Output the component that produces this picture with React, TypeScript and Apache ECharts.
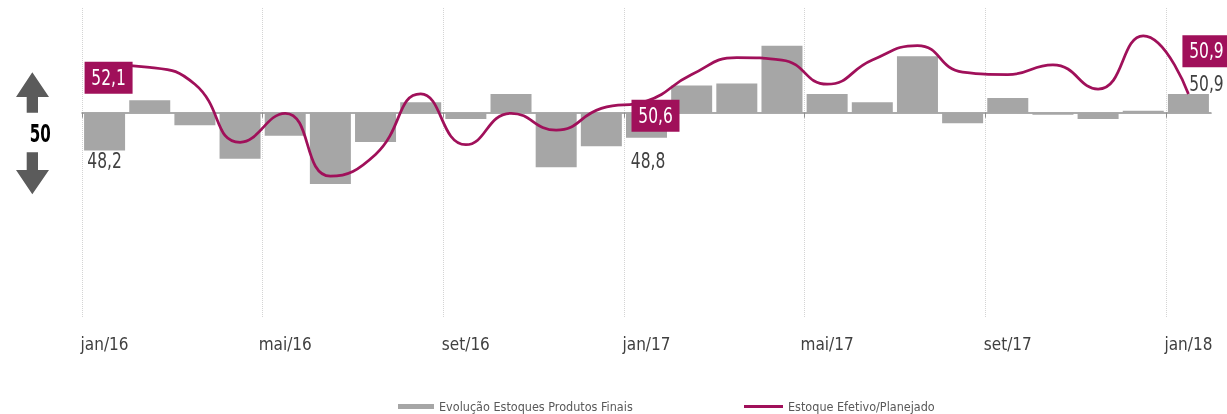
import React, { useEffect, useRef } from "react";
import * as echarts from "echarts";

// ---- data ----
const months = [
  "jan/16", "fev/16", "mar/16", "abr/16", "mai/16", "jun/16", "jul/16", "ago/16", "set/16", "out/16", "nov/16", "dez/16",
  "jan/17", "fev/17", "mar/17", "abr/17", "mai/17", "jun/17", "jul/17", "ago/17", "set/17", "out/17", "nov/17", "dez/17",
  "jan/18",
];
const estoqueProdutosFinais = [
  48.2, 50.6, 49.4, 47.8, 48.9, 46.6, 48.6, 50.5, 49.7, 50.9, 47.4, 48.4,
  48.8, 51.3, 51.4, 53.2, 50.9, 50.5, 52.7, 49.5, 50.7, 49.9, 49.7, 50.1,
  50.9,
];
const estoqueEfetivoPlanejado = [
  52.1, 52.0, 51.3, 48.9, 50.1, 47.5, 48.4, 50.9, 48.8, 50.1, 49.4, 50.3,
  50.6, 51.7, 52.4, 52.3, 51.3, 52.3, 52.9, 51.8, 51.7, 52.1, 51.1, 53.3,
  50.9,
];
const seriesNames = ["Evolução Estoques Produtos Finais", "Estoque Efetivo/Planejado"];
const labeledIndices = [0, 12, 24];
const baseValue = 50;

// ---- styles ----
const FONT = "'Liberation Sans Narrow', 'Arial Narrow', 'DejaVu Sans Condensed', 'Liberation Sans', sans-serif";
const BAR_COLOR = "#a6a6a6";
const MAROON = "#a0105a";
const TEXT = "#404040";
const NARROW = 0.82;

const fmt = (v: number) => v.toFixed(1).replace(".", ",");

export default function App() {
  const ref = useRef<HTMLDivElement>(null);

  useEffect(() => {
    const chart = echarts.init(ref.current!, undefined, { renderer: "svg" });

    // label placement relative to the data point (style, not data)
    const barLabelOffset: Record<number, number[]> = {
      0: [0, 10],
      12: [1.5, 22.6],
      24: [18, -10],
    };
    const lineLabelOffset: Record<number, number[]> = {
      0: [4, 13],
      12: [9, 14.5],
      24: [18, -42.6],
    };

    const deviations = estoqueProdutosFinais.map((v) => +(v - baseValue).toFixed(2));
    const barLabelData = labeledIndices.map((i) => [i, deviations[i]]);
    const lineLabelData = labeledIndices.map((i) => [i, estoqueEfetivoPlanejado[i]]);

    chart.setOption({
      animation: false,
      grid: { left: 82, right: 16, top: 8, bottom: 96, containLabel: false },
      legend: [
        {
          left: 398,
          top: 400,
          padding: 0,
          itemWidth: 36,
          itemHeight: 5,
          textStyle: { fontSize: 12.5, color: "#595959", fontFamily: FONT },
          data: [{ name: seriesNames[0], icon: "rect", itemStyle: { color: BAR_COLOR } }],
        },
        {
          left: 744,
          top: 400,
          padding: 0,
          itemWidth: 39,
          itemHeight: 3,
          textStyle: { fontSize: 12.5, color: "#595959", fontFamily: FONT },
          data: [{ name: seriesNames[1], icon: "rect", itemStyle: { color: MAROON } }],
        },
      ],
      xAxis: [
        {
          type: "category",
          data: months,
          position: "bottom",
          boundaryGap: true,
          axisLine: { show: false, onZero: false },
          axisTick: { show: false },
          axisLabel: {
            interval: 3,
            margin: 17,
            fontSize: 17,
            color: TEXT,
            fontFamily: FONT,
          },
          splitLine: {
            show: true,
            interval: 3,
            lineStyle: { color: "#d4d4d4", type: "dotted", width: 1 },
          },
        },
        {
          type: "category",
          data: months,
          position: "bottom",
          boundaryGap: true,
          axisLine: {
            show: true,
            onZero: true,
            onZeroAxisIndex: 0,
            lineStyle: { color: "#8f8f8f", width: 1.5 },
          },
          axisTick: {
            show: true,
            interval: 3,
            length: 5,
            lineStyle: { color: "#8f8f8f", width: 1 },
          },
          axisLabel: { show: false },
          splitLine: { show: false },
        },
      ],
      yAxis: [
        { type: "value", min: -9.8, max: 5, show: false, splitLine: { show: false } },
        { type: "value", min: 41.64, max: 54.45, show: false, splitLine: { show: false } },
      ],
      series: [
        {
          name: seriesNames[0],
          type: "bar",
          xAxisIndex: 0,
          yAxisIndex: 0,
          barWidth: 41,
          itemStyle: { color: BAR_COLOR },
          data: deviations,
        },
        {
          name: seriesNames[1],
          type: "line",
          xAxisIndex: 0,
          yAxisIndex: 1,
          smooth: 0.5,
          symbol: "none",
          lineStyle: { color: MAROON, width: 2.75 },
          data: estoqueEfetivoPlanejado,
          z: 3,
        },
        {
          name: "barLabels",
          type: "custom",
          xAxisIndex: 0,
          yAxisIndex: 0,
          clip: false,
          silent: true,
          z: 20,
          data: barLabelData,
          renderItem: (params: any, api: any) => {
            const idx = api.value(0);
            const pt = api.coord([idx, api.value(1)]);
            const off = barLabelOffset[idx] || [0, 0];
            return {
              type: "text",
              x: pt[0] + off[0],
              y: pt[1] + off[1],
              scaleX: NARROW,
              style: {
                text: fmt(estoqueProdutosFinais[idx]),
                fontSize: 21,
                fontFamily: FONT,
                fill: TEXT,
                align: "center",
                verticalAlign: "middle",
              },
            };
          },
        },
        {
          name: "lineLabels",
          type: "custom",
          xAxisIndex: 0,
          yAxisIndex: 1,
          clip: false,
          silent: true,
          z: 20,
          data: lineLabelData,
          renderItem: (params: any, api: any) => {
            const idx = api.value(0);
            const pt = api.coord([idx, api.value(1)]);
            const off = lineLabelOffset[idx] || [0, 0];
            return {
              type: "group",
              x: pt[0] + off[0],
              y: pt[1] + off[1],
              children: [
                {
                  type: "rect",
                  shape: { x: -24, y: -16, width: 48, height: 32 },
                  style: { fill: MAROON },
                },
                {
                  type: "text",
                  x: 0,
                  y: 0,
                  scaleX: NARROW,
                  style: {
                    text: fmt(estoqueEfetivoPlanejado[idx]),
                    fontSize: 21,
                    fontFamily: FONT,
                    fill: "#ffffff",
                    align: "center",
                    verticalAlign: "middle",
                  },
                },
              ],
            };
          },
        },
      ],
      graphic: [
        {
          type: "polygon",
          shape: {
            points: [
              [32.3, 72.3], [49, 97], [38, 97], [38, 112.7], [26.7, 112.7], [26.7, 97], [16, 97],
            ],
          },
          style: { fill: "#5b5b5b" },
        },
        {
          type: "polygon",
          shape: {
            points: [
              [26.7, 152.3], [38, 152.3], [38, 170], [49, 170], [32.3, 194.3], [16, 170], [26.7, 170],
            ],
          },
          style: { fill: "#5b5b5b" },
        },
        {
          type: "text",
          x: 40.3,
          y: 133.6,
          scaleX: 0.7,
          style: {
            text: "50",
            fontSize: 24,
            fontWeight: "bold",
            fontFamily: FONT,
            fill: "#000000",
            align: "center",
            verticalAlign: "middle",
          },
        },
        // mask the automatic closing boundary line/tick at the right end of the band axis
        {
          type: "rect",
          z: 10,
          shape: { x: 1210, y: 0, width: 4, height: 111.5 },
          style: { fill: "#ffffff" },
        },
        {
          type: "rect",
          z: 10,
          shape: { x: 1211.5, y: 111.5, width: 3, height: 3 },
          style: { fill: "#ffffff" },
        },
        {
          type: "rect",
          z: 10,
          shape: { x: 1210, y: 114, width: 4, height: 210 },
          style: { fill: "#ffffff" },
        },
      ],
    });

    return () => chart.dispose();
  }, []);

  return (
    <div
      ref={ref}
      style={{ position: "fixed", left: 0, top: 0, width: 1227, height: 414 }}
    />
  );
}
